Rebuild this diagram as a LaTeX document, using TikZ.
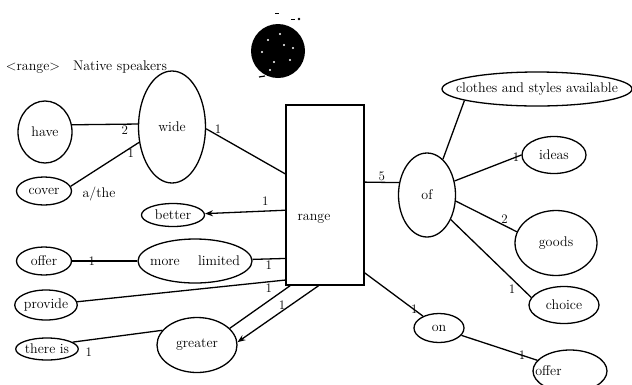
\documentclass[tikz,border=0pt]{standalone}
\usepackage{tikz}
\usetikzlibrary{shapes.geometric,arrows.meta}

\tikzset{
  wort/.style={ellipse, draw, line width=1.3pt, inner sep=0pt, font=\fontsize{14}{16}\selectfont},
  zahl/.style={inner sep=1pt, font=\fontsize{13}{15}\selectfont},
  linie/.style={line width=1.3pt},
  pfeil/.style={line width=1.3pt, -{Stealth[open, length=8pt, width=6pt]}}
}

\begin{document}
\begin{tikzpicture}[x=1pt,y=-1pt]
          \useasboundingbox (0,0) rectangle (632,384);

          %Fleck oben
          \fill[black] (278,51) circle (27pt);
          \foreach \px/\py in {268/40,284/45,290/60,274/62,262/52,293/48,280/34,270/70}
          \fill[white] (\px,\py) circle (1.2pt);
          \draw[line width=1pt] (275,13) -- (279,13);
          \draw[line width=1pt] (291,19) -- (295,19);
          \fill (299,19) circle (1.3pt);
          \draw[line width=1.2pt] (259,77) -- (265,76);

          %Ueberschrift
          \node[font=\fontsize{14}{16}\selectfont] (tag) at (33,68) {\textless range\textgreater};
          \node[font=\fontsize{14}{16}\selectfont] (native) at (120,67) {Native speakers};

          %Mitte
          \node[draw, line width=1.3pt, minimum width=78pt, minimum height=180pt, inner sep=0pt] (range) at (325,195) {};
          \node[font=\fontsize{14}{16}\selectfont] (rangetxt) at (314,219) {range};

          %linke Seite
          \node[wort, minimum width=54pt, minimum height=62pt] (have) at (45,132) {have};
          \node[wort, minimum width=67pt, minimum height=112pt] (wide) at (172,127) {wide};
          \node[wort, minimum width=55pt, minimum height=28pt] (cover) at (44,191) {cover};
          \node[font=\fontsize{14}{16}\selectfont] (athe) at (99,194) {a/the};
          \node[wort, minimum width=63pt, minimum height=23pt] (better) at (173,215) {better};
          \node[wort, minimum width=55pt, minimum height=28pt] (offerl) at (44,261) {offer};
          \node[wort, minimum width=114pt, minimum height=44pt, inner xsep=-7pt] (more) at (195,261) {more\hspace{1.3em}limited};
          \node[wort, minimum width=60pt, minimum height=30pt] (provide) at (46,305) {provide};
          \node[wort, minimum width=62pt, minimum height=22pt] (there) at (47,349) {there is};
          \node[wort, minimum width=80pt, minimum height=55pt] (greater) at (197,345) {greater};

          %rechte Seite
          \node[wort, minimum width=57pt, minimum height=84pt] (of) at (427,195) {of};
          \node[wort, minimum width=190pt, minimum height=34pt, inner xsep=-17pt] (clothes) at (537,89) {clothes and styles available};
          \node[wort, minimum width=64pt, minimum height=37pt] (ideas) at (554,155) {ideas};
          \node[wort, minimum width=82pt, minimum height=65pt] (goods) at (556,243) {goods};
          \node[wort, minimum width=70pt, minimum height=37pt] (choice) at (564,305) {choice};
          \node[wort, minimum width=50pt, minimum height=29pt] (on) at (439,328) {on};
          \node[wort, minimum width=74pt, minimum height=42pt, inner xsep=-12pt] (offerr) at (570,371) {offer\hspace{43pt}\null};

          %Verbindungen links
          \draw[linie] (have.15) -- (wide.175) node[zahl, pos=0.8, below] {2};
          \draw[linie] (cover.10) -- (wide.205) node[zahl, pos=0.88, below] {1};
          \draw[linie] (wide.-3) -- (range.152) node[zahl, pos=0.15, above] {1};
          \draw[pfeil] (range.201) -- (better) node[zahl, pos=0.25, above=4pt] {1};
          \draw[linie] (offerl) -- (more) node[zahl, pos=0.3] {1};
          \draw[linie] (more) -- (range.238) node[zahl, pos=0.5, below] {1};
          \draw[linie] (provide) -- (range.245) node[zahl, pos=0.92, below] {1};
          \draw[linie] (there.15) -- (greater.157) node[zahl, pos=0.18, below=6pt] {1};
          \draw[linie] (range.249) -- (greater.27);
          \draw[pfeil] (range.266) -- (greater.4) node[zahl, pos=0.45, above] {1};

          %Verbindungen rechts
          \draw[linie] (range.18) -- (of.156) node[zahl, pos=0.5, above] {5};
          \draw[linie] (of.66) -- (clothes.189);
          \draw[linie] (of.27) -- (ideas.180) node[zahl, pos=0.92] {1};
          \draw[linie] (of.-12) -- (goods.164) node[zahl, pos=0.8, above] {2};
          \draw[linie] (of.-46) -- (choice.167) node[zahl, pos=0.82, below left=0pt] {1};
          \draw[linie] (range.297) -- (on) node[zahl, pos=0.85] {1};
          \draw[linie] (on) -- (offerr) node[zahl, pos=0.8] {1};

        \end{tikzpicture}
\end{document}
